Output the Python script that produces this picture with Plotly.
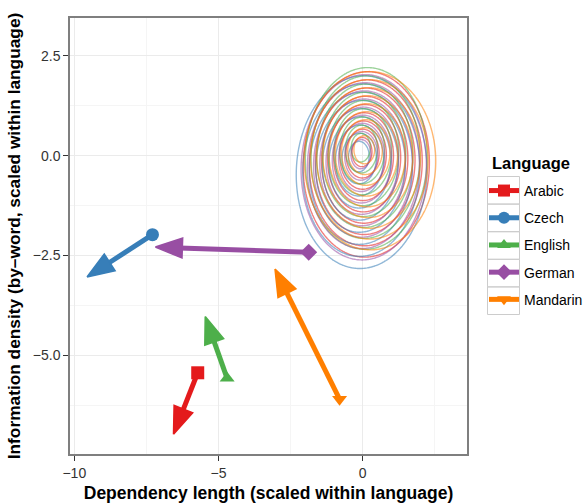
import numpy as np
import plotly.graph_objects as go

# ---- data ----
languages = ["Arabic", "Czech", "English", "German", "Mandarin"]
colors = ["#E41A1C", "#377EB8", "#4DAF4A", "#984EA3", "#FF7F00"]
symbols = ["square", "circle", "triangle-up", "diamond", "triangle-down"]

# arrow start (observed) and end points
start_x = [-5.72, -7.29, -4.70, -1.87, -0.80]
start_y = [-5.44, -1.98, -5.58, -2.42, -6.10]
end_x = [-6.56, -9.56, -5.46, -7.19, -3.04]
end_y = [-6.98, -3.04, -4.03, -2.29, -2.84]

# baseline density contours per language:
# innermost-ring centre, drift of ring centre toward the outer ring,
# outer semi-axes and tilt (degrees clockwise from vertical)
inner_x = [-0.05, -0.15, -0.10, -0.08, 0.02]
inner_y = [0.15, 0.05, 0.25, 0.10, 0.20]
shift_p = [0.25, 0.22, 0.28, 0.20, 0.30]
shift_q = [-0.35, -0.45, -0.30, -0.38, -0.30]
semi_p = [2.30, 2.38, 2.22, 2.28, 2.40]
semi_q = [2.45, 2.55, 2.40, 2.45, 2.35]
tilt = [10, 12, 8, 11, 9]

xticks = [-10, -5, 0]
yticks = [-5.0, -2.5, 0.0, 2.5]

FONT = "Liberation Sans, Arial, Helvetica, sans-serif"
W, H = 584, 503
ML, MR, MT, MB = 70, 117, 18, 49
PW, PH = W - ML - MR, H - MT - MB
XR = [-10.15, 3.62]
YR = [-7.475, 3.45]
kx = PW / (XR[1] - XR[0])   # px per x unit
ky = PH / (YR[1] - YR[0])   # px per y unit

fig = go.Figure()

gx = np.linspace(-3.6, 3.8, 200)
gy = np.linspace(-3.8, 3.5, 200)
GX, GY = np.meshgrid(gx, gy)
for i, lang in enumerate(languages):
    th = np.radians(tilt[i])
    u = GX - inner_x[i]
    v = GY - inner_y[i]
    p = u * np.cos(th) - v * np.sin(th)
    q = u * np.sin(th) + v * np.cos(th)
    ap, aq, dp, dq = semi_p[i], semi_q[i], shift_p[i], shift_q[i]
    A = 1 - dp ** 2 / ap ** 2 - dq ** 2 / aq ** 2
    B = p * dp / ap ** 2 + q * dq / aq ** 2
    C = p ** 2 / ap ** 2 + q ** 2 / aq ** 2
    s = (-B + np.sqrt(B ** 2 + A * C)) / A
    fig.add_trace(go.Contour(
        x=gx, y=gy, z=s,
        contours=dict(coloring="lines", start=0.15, end=0.95, size=0.1),
        colorscale=[[0, colors[i]], [1, colors[i]]],
        line=dict(width=1.4, smoothing=1),
        opacity=0.55, showscale=False, showlegend=False, hoverinfo="skip",
    ))

HEAD_L, HEAD_W = 27.0, 10.0
for i, lang in enumerate(languages):
    ux = (end_x[i] - start_x[i]) * kx
    uy = (end_y[i] - start_y[i]) * ky
    n = np.hypot(ux, uy)
    ux, uy = ux / n, uy / n
    bx = end_x[i] - HEAD_L * ux / kx
    by = end_y[i] - HEAD_L * uy / ky
    sbx = end_x[i] - (HEAD_L - 3) * ux / kx
    sby = end_y[i] - (HEAD_L - 3) * uy / ky
    c1x = bx + HEAD_W * (-uy) / kx
    c1y = by + HEAD_W * (ux) / ky
    c2x = bx - HEAD_W * (-uy) / kx
    c2y = by - HEAD_W * (ux) / ky
    fig.add_trace(go.Scatter(
        x=[start_x[i], sbx], y=[start_y[i], sby], mode="lines",
        line=dict(color=colors[i], width=5), showlegend=False, hoverinfo="skip",
    ))
    fig.add_trace(go.Scatter(
        x=[end_x[i], c1x, c2x, end_x[i]], y=[end_y[i], c1y, c2y, end_y[i]],
        mode="lines", fill="toself", fillcolor=colors[i],
        line=dict(color=colors[i], width=1.5), showlegend=False, hoverinfo="skip",
    ))

for i, lang in enumerate(languages):
    fig.add_trace(go.Scatter(
        x=[start_x[i]], y=[start_y[i]], mode="lines+markers", name=lang,
        legendgroup=lang,
        line=dict(color=colors[i], width=5),
        marker=dict(symbol=symbols[i], size=13, color=colors[i]),
    ))

fig.update_xaxes(
    range=XR, tickvals=xticks, ticktext=["\u221210", "\u22125", "0"],
    showgrid=True, gridcolor="#EBEBEB", gridwidth=1.2,
    minor=dict(tickvals=[-7.5, -2.5, 2.5], showgrid=True, gridcolor="#F5F5F5", gridwidth=1),
    zeroline=False, showline=True, linecolor="#7F7F7F", linewidth=1.5, mirror=True,
    ticks="outside", ticklen=5, tickcolor="#333333", tickwidth=1.2,
    tickfont=dict(family=FONT, size=14, color="#333333"),
    automargin=False,
    title=dict(text="<b>Dependency length (scaled within language)</b>",
               font=dict(family=FONT, size=17.5, color="black"), standoff=8),
)
fig.update_yaxes(
    range=YR, tickvals=yticks, ticktext=["\u22125.0", "\u22122.5", "0.0", "2.5"],
    showgrid=True, gridcolor="#EBEBEB", gridwidth=1.2,
    minor=dict(tickvals=[-6.25, -3.75, -1.25, 1.25], showgrid=True, gridcolor="#F5F5F5", gridwidth=1),
    zeroline=False, showline=True, linecolor="#7F7F7F", linewidth=1.5, mirror=True,
    ticks="outside", ticklen=5, tickcolor="#333333", tickwidth=1.2,
    tickfont=dict(family=FONT, size=14, color="#333333"),
    automargin=False,
    title=dict(text="<b>Information density (by\u2013word, scaled within language)</b>",
               font=dict(family=FONT, size=17.3, color="black"), standoff=8),
)

fig.add_annotation(
    text="<b>Language</b>", xref="paper", yref="paper",
    x=(490 - ML) / PW, y=(H - MB - 163) / PH,
    xanchor="left", yanchor="middle", showarrow=False,
    font=dict(family=FONT, size=16.5, color="black"),
)

# legend key frames (ggplot-style grey boxes around each key)
KEY_TOP, KEY_H, KEY_L, KEY_R = 176.5, 27.6, 487.5, 519.5
for i in range(len(languages)):
    t = KEY_TOP + i * KEY_H
    fig.add_shape(
        type="rect", xref="paper", yref="paper",
        x0=(KEY_L - ML) / PW, x1=(KEY_R - ML) / PW,
        y0=(H - MB - (t + KEY_H)) / PH, y1=(H - MB - t) / PH,
        line=dict(color="#CCCCCC", width=1), fillcolor="rgba(0,0,0,0)",
    )

fig.update_layout(
    width=W, height=H, autosize=False,
    margin=dict(l=ML, r=MR, t=MT, b=MB, autoexpand=False),
    plot_bgcolor="white", paper_bgcolor="rgba(255,255,255,1)",
    font=dict(family=FONT),
    legend=dict(
        font=dict(family=FONT, size=14, color="black"),
        x=(484 - ML) / PW, xanchor="left", y=0.64, yanchor="top",
        tracegroupgap=6, itemsizing="constant", bgcolor="rgba(0,0,0,0)",
    ),
)

fig.write_html(
    "out.html",
    config={"responsive": False, "displayModeBar": False},
    post_script="document.body.style.margin='0px';document.body.style.overflow='hidden';",
)
